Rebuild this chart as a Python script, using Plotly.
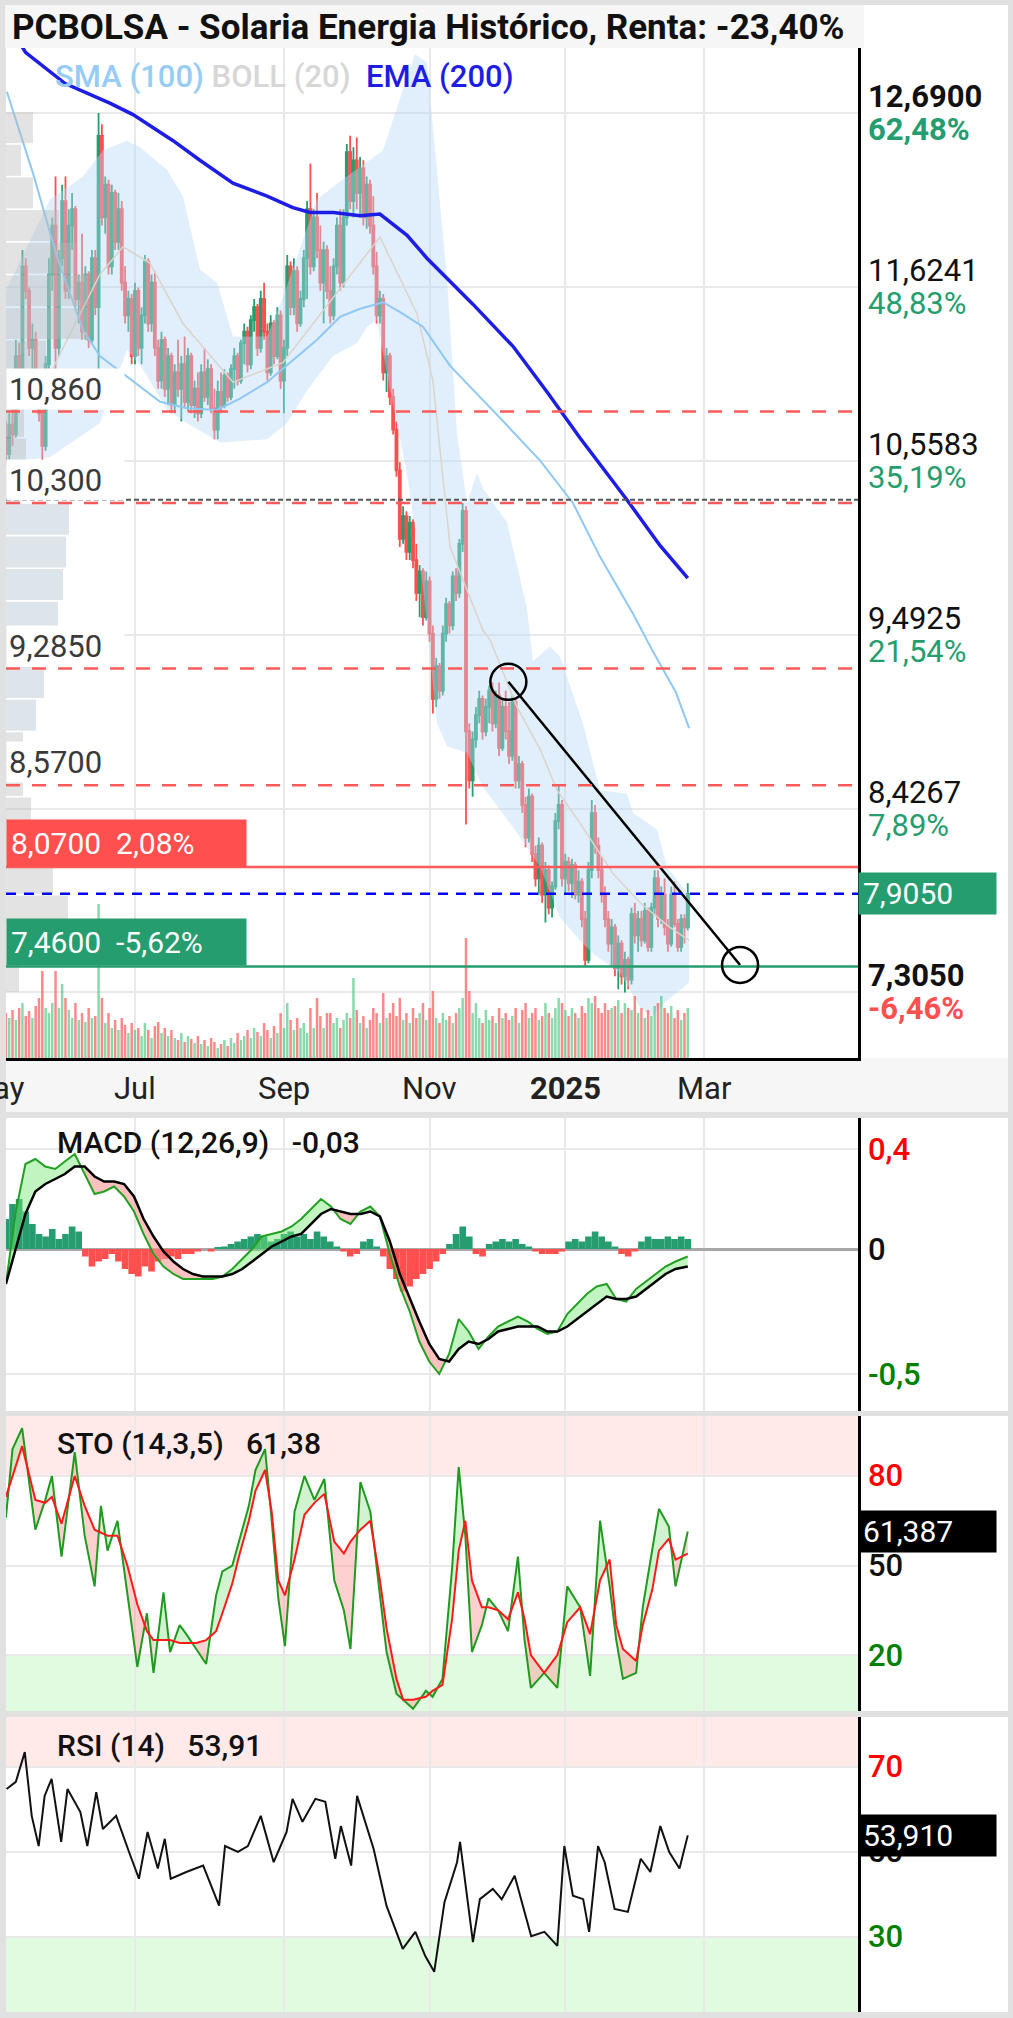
import plotly.graph_objects as go

# ---------------------------------------------------------------- data
FIRST_IDX = -39          # trading-day index of first candle (0 = 1 Jul 2024)

OPEN = [10.70, 10.60, 10.78, 10.72, 11.20, 11.12, 11.75, 11.60, 11.25, 11.30,
        11.10, 10.85, 10.65, 11.15, 11.70, 12.00, 11.25, 11.80, 12.15, 11.60,
        12.00, 12.10, 11.55, 11.65, 11.35, 11.70, 11.30, 11.80, 11.50, 12.55,
        12.05, 12.25, 11.75, 12.20, 11.90, 12.10, 11.65, 11.45, 11.55, 11.20,
        11.60, 11.25, 11.45, 11.78, 11.40, 11.65, 11.25, 11.05, 11.30, 11.00,
        11.20, 10.90, 11.10, 11.00, 11.15, 10.92, 11.20, 10.90, 11.00, 10.85,
        11.10, 10.95, 11.12, 10.88, 10.75, 10.98, 10.90, 11.08, 10.95, 11.12,
        11.20, 11.05, 11.28, 11.35, 11.15, 11.42, 11.50, 11.25, 11.55, 11.35,
        11.10, 11.40, 11.20, 11.45, 11.05, 11.25, 11.75, 11.50, 11.72, 11.40,
        11.55, 11.80, 12.10, 11.75, 12.05, 11.85, 11.65, 11.85, 11.60, 11.45,
        11.75, 12.00, 11.65, 12.05, 12.45, 12.15, 12.40, 12.20, 12.35, 12.05,
        12.25, 12.00, 11.75, 11.45, 11.55, 11.10, 11.20, 10.95, 10.75, 10.50,
        10.08, 10.22, 10.00, 10.18, 9.95, 9.75, 9.88, 9.60, 9.82, 9.50,
        9.10, 9.30, 9.15, 9.50, 9.68, 9.55, 9.85, 9.75, 10.05, 10.25,
        8.90, 8.60, 8.85, 9.00, 9.10, 8.90, 9.05, 9.15, 8.95, 9.12,
        8.80, 9.05, 8.90, 8.75, 9.08, 8.60, 8.70, 8.45, 8.25, 8.50,
        8.15, 8.00, 8.20, 7.90, 8.05, 7.82, 7.95, 8.35, 8.45, 8.00,
        8.10, 7.97, 8.08, 7.90, 7.98, 7.75, 7.50, 8.05, 8.40, 8.20,
        8.05, 7.90, 7.75, 7.60, 7.70, 7.45, 7.60, 7.40, 7.50, 7.38,
        7.78, 7.65, 7.75, 7.62, 7.80, 7.58, 7.82, 8.00, 7.75, 7.90,
        7.70, 7.60, 7.90, 7.72, 7.58, 7.75, 7.70]
HIGH = [10.80, 10.85, 10.95, 11.30, 11.28, 11.85, 11.80, 11.62, 11.40, 11.35,
        11.12, 10.88, 11.20, 11.80, 12.05, 12.30, 11.85, 12.25, 12.30, 12.10,
        12.20, 12.12, 11.70, 11.95, 11.75, 11.72, 11.85, 11.85, 12.69, 12.62,
        12.30, 12.28, 12.25, 12.22, 12.20, 12.15, 11.75, 11.60, 11.58, 11.65,
        11.62, 11.50, 11.82, 11.80, 11.70, 11.72, 11.30, 11.35, 11.32, 11.25,
        11.22, 11.15, 11.30, 11.20, 11.32, 11.25, 11.22, 11.05, 11.10, 11.15,
        11.25, 11.18, 11.15, 11.00, 11.05, 11.10, 11.12, 11.10, 11.15, 11.25,
        11.22, 11.30, 11.40, 11.38, 11.45, 11.55, 11.52, 11.60, 11.65, 11.40,
        11.45, 11.42, 11.50, 11.48, 11.30, 11.82, 11.78, 11.80, 11.75, 11.60,
        11.85, 12.15, 12.38, 12.10, 12.20, 12.00, 11.90, 11.88, 11.75, 11.80,
        12.05, 12.10, 12.10, 12.50, 12.55, 12.48, 12.54, 12.42, 12.40, 12.30,
        12.28, 12.18, 11.84, 11.60, 11.58, 11.25, 11.22, 11.00, 10.80, 10.55,
        10.28, 10.25, 10.22, 10.20, 10.05, 9.92, 9.90, 9.88, 9.85, 9.55,
        9.35, 9.32, 9.55, 9.72, 9.70, 9.88, 9.90, 10.08, 10.30, 10.28,
        8.95, 8.90, 9.05, 9.15, 9.12, 9.10, 9.18, 9.20, 9.15, 9.20,
        9.10, 9.15, 9.08, 9.12, 9.10, 8.75, 8.72, 8.50, 8.55, 8.52,
        8.20, 8.25, 8.22, 8.10, 8.08, 7.98, 8.40, 8.57, 8.48, 8.15,
        8.13, 8.12, 8.10, 8.05, 8.00, 7.80, 8.10, 8.48, 8.45, 8.25,
        8.13, 7.95, 7.80, 7.75, 7.72, 7.65, 7.62, 7.55, 7.52, 7.82,
        7.85, 7.80, 7.80, 7.85, 7.82, 7.85, 8.05, 8.05, 7.95, 8.00,
        7.75, 7.95, 7.98, 7.75, 7.78, 7.78, 7.97]
LOW = [10.55, 10.55, 10.65, 10.70, 11.05, 11.10, 11.55, 11.20, 11.10, 11.05,
       10.80, 10.55, 10.62, 11.10, 11.60, 11.12, 11.20, 11.75, 11.55, 11.55,
       11.85, 11.50, 11.40, 11.30, 11.30, 11.25, 11.28, 11.45, 11.12, 12.00,
       11.95, 11.70, 11.70, 11.85, 11.85, 11.60, 11.40, 11.35, 11.15, 11.15,
       11.20, 11.15, 11.40, 11.35, 11.35, 11.20, 11.00, 11.00, 10.95, 10.90,
       10.85, 10.85, 10.95, 10.80, 10.88, 10.86, 10.85, 10.82, 10.80, 10.82,
       10.92, 10.90, 10.85, 10.69, 10.69, 10.85, 10.88, 10.92, 10.93, 11.00,
       11.02, 11.03, 11.15, 11.10, 11.12, 11.35, 11.20, 11.22, 11.30, 11.05,
       11.08, 11.15, 11.18, 11.00, 10.85, 11.20, 11.45, 11.45, 11.35, 11.38,
       11.50, 11.55, 11.70, 11.72, 11.80, 11.60, 11.40, 11.55, 11.40, 11.42,
       11.70, 11.60, 11.62, 12.00, 12.10, 12.05, 12.10, 12.05, 12.00, 11.98,
       11.95, 11.70, 11.40, 11.40, 11.05, 10.98, 10.90, 10.72, 10.46, 10.03,
       10.05, 9.95, 9.95, 9.90, 9.70, 9.60, 9.55, 9.58, 9.45, 9.01,
       9.05, 9.10, 9.12, 9.45, 9.50, 9.52, 9.70, 9.72, 10.00, 8.33,
       8.55, 8.50, 8.80, 8.95, 8.85, 8.87, 8.95, 8.90, 8.92, 8.75,
       8.78, 8.85, 8.70, 8.72, 8.55, 8.55, 8.40, 8.19, 8.22, 8.10,
       7.95, 7.90, 7.85, 7.73, 7.78, 7.76, 7.93, 8.30, 7.95, 7.90,
       7.92, 7.88, 7.87, 7.85, 7.70, 7.46, 7.48, 8.00, 8.15, 8.00,
       7.85, 7.70, 7.55, 7.46, 7.40, 7.32, 7.35, 7.30, 7.32, 7.35,
       7.60, 7.55, 7.58, 7.60, 7.55, 7.55, 7.78, 7.70, 7.72, 7.65,
       7.55, 7.58, 7.70, 7.55, 7.55, 7.60, 7.68]
CLOSE = [10.60, 10.78, 10.72, 11.20, 11.12, 11.75, 11.60, 11.25, 11.30, 11.10,
         10.85, 10.65, 11.15, 11.70, 12.00, 11.25, 11.80, 12.15, 11.60, 12.00,
         12.10, 11.55, 11.65, 11.35, 11.70, 11.30, 11.80, 11.50, 12.55, 12.05,
         12.25, 11.75, 12.20, 11.90, 12.10, 11.65, 11.45, 11.55, 11.20, 11.60,
         11.25, 11.45, 11.78, 11.40, 11.65, 11.25, 11.05, 11.30, 11.00, 11.20,
         10.90, 11.10, 11.00, 11.15, 10.92, 11.20, 10.90, 11.00, 10.85, 11.10,
         10.95, 11.12, 10.88, 10.75, 10.98, 10.90, 11.08, 10.95, 11.12, 11.20,
         11.05, 11.28, 11.35, 11.15, 11.42, 11.50, 11.25, 11.55, 11.35, 11.10,
         11.40, 11.20, 11.45, 11.05, 11.25, 11.75, 11.50, 11.72, 11.40, 11.55,
         11.80, 12.10, 11.75, 12.05, 11.85, 11.65, 11.85, 11.60, 11.45, 11.75,
         12.00, 11.65, 12.05, 12.45, 12.15, 12.40, 12.20, 12.35, 12.05, 12.25,
         12.00, 11.75, 11.45, 11.55, 11.10, 11.20, 10.95, 10.75, 10.50, 10.08,
         10.22, 10.00, 10.18, 9.95, 9.75, 9.88, 9.60, 9.82, 9.50, 9.10,
         9.30, 9.15, 9.50, 9.68, 9.55, 9.85, 9.75, 10.05, 10.25, 8.90,
         8.60, 8.85, 9.00, 9.10, 8.90, 9.05, 9.15, 8.95, 9.12, 8.80,
         9.05, 8.90, 8.75, 9.08, 8.60, 8.70, 8.45, 8.25, 8.50, 8.15,
         8.00, 8.20, 7.90, 8.05, 7.82, 7.95, 8.35, 8.45, 8.00, 8.10,
         7.97, 8.08, 7.90, 7.98, 7.75, 7.50, 8.05, 8.40, 8.20, 8.05,
         7.90, 7.75, 7.60, 7.70, 7.45, 7.60, 7.40, 7.50, 7.38, 7.78,
         7.65, 7.75, 7.62, 7.80, 7.58, 7.82, 8.00, 7.75, 7.90, 7.70,
         7.60, 7.90, 7.72, 7.58, 7.75, 7.70, 7.905]
VOLUME = [45, 40, 48, 38, 50, 55, 42, 47, 40, 52,
          60, 87, 50, 45, 55, 87, 50, 74, 60, 48,
          40, 55, 38, 45, 36, 50, 40, 42, 154, 60,
          35, 45, 30, 38, 28, 40, 33, 25, 35, 28,
          30, 22, 35, 28, 20, 32, 36, 25, 30, 22,
          28, 20, 18, 25, 16, 22, 19, 15, 22, 14,
          18, 12, 20, 16, 10, 14, 18, 12, 20, 15,
          25, 18, 22, 28, 20, 30, 26, 22, 35, 28,
          20, 32, 25, 45, 30, 55, 38, 28, 40, 30,
          35, 25, 50, 30, 60, 42, 30, 45, 45, 35,
          40, 30, 38, 45, 40, 80, 48, 35, 42, 30,
          38, 50, 45, 35, 65, 40, 45, 55, 42, 60,
          38, 45, 35, 50, 40, 45, 55, 38, 50, 67,
          40, 35, 45, 38, 42, 35, 45, 50, 60, 120,
          67, 45, 55, 40, 35, 48, 38, 42, 35, 50,
          40, 45, 38, 42, 50, 35, 48, 55, 40, 45,
          50, 38, 42, 55, 45, 40, 50, 60, 55, 48,
          42, 50, 45, 40, 52, 45, 60, 55, 62, 50,
          45, 55, 48, 50, 52, 58, 45, 55, 50, 48,
          62, 45, 50, 40, 48, 42, 52, 55, 62, 50,
          45, 52, 40, 48, 38, 45, 50]

SMA100_X = [-38.7, -30.8, -23.6, -15.7, -10.6, -5.4, 7.6, 15.7, 24.8, 31.7, 39.9, 46.8, 55.0, 61.9,
            68.0, 74.9, 80.1, 87.0, 95.2, 109.4, 122.4, 132.3, 140.5, 150.5, 156.2, 163.4, 167.4]
SMA100 = [12.82, 12.32, 11.81, 11.36, 11.20, 11.12, 10.92, 10.88, 10.87, 10.94, 11.04, 11.16, 11.30, 11.44,
          11.49, 11.53, 11.47, 11.38, 11.14, 10.84, 10.56, 10.30, 9.97, 9.62, 9.40, 9.14, 8.92]

EMA200_X = [-39.0, -33.0, -21.1, -7.6, -0.6, 11.5, 19.6, 29.6, 39.9, 47.7, 52.9, 60.0, 68.0, 74.0,
            82.2, 88.2, 102.0, 114.2, 124.5, 134.4, 148.6, 158.6, 167.0]
EMA200 = [13.25, 13.06, 12.87, 12.75, 12.68, 12.52, 12.40, 12.26, 12.18, 12.11, 12.08, 12.08, 12.06, 12.07,
          11.94, 11.80, 11.52, 11.26, 10.98, 10.70, 10.32, 10.04, 9.84]

BB_UP_X = [-39.0, -30.8, -25.7, -15.7, -9.7, -2.4, 1.5, 9.7, 14.5, 19.6, 24.8, 29.6, 39.9, 44.7, 55.0,
           61.9, 74.9, 80.1, 84.6, 88.2, 90.0, 94.3, 97.3, 100.3, 103.3, 105.1, 112.4, 118.4, 120.2,
           125.4, 128.4, 135.3, 140.5, 148.6, 150.5, 157.7, 160.7, 167.4]
BB_UP = [11.60, 11.95, 12.16, 12.30, 12.46, 12.52, 12.48, 12.34, 12.18, 11.73, 11.65, 11.32, 11.32, 11.56,
         12.16, 12.27, 12.46, 12.78, 13.05, 13.00, 12.60, 11.66, 10.72, 10.30, 10.48, 10.39, 10.18, 9.66,
         9.33, 9.42, 9.36, 8.95, 8.54, 8.52, 8.40, 8.30, 8.07, 7.90]
BB_LO_X = [-39.0, -25.7, -10.6, -2.4, 2.4, 9.7, 15.7, 25.7, 39.9, 45.9, 52.0, 59.8, 67.1, 70.1, 73.1,
           77.0, 82.2, 87.0, 91.2, 94.3, 100.3, 105.1, 110.3, 115.4, 122.4, 128.4, 134.4, 138.4, 146.5,
           152.6, 156.2, 160.7, 167.4]
BB_LO = [10.55, 10.58, 10.79, 11.24, 11.12, 10.87, 10.79, 10.67, 10.69, 10.79, 10.99, 11.20, 11.28, 11.38,
         11.42, 11.00, 10.48, 9.79, 8.95, 8.81, 8.77, 8.56, 8.42, 8.28, 8.07, 7.76, 7.62, 7.54, 7.42,
         7.21, 7.15, 7.25, 7.36]
BB_MID_X = [-34.7, -26.6, -20.5, -10.6, -3.6, 4.5, 14.5, 29.6, 44.7, 59.8, 74.0, 85.2, 90.0, 95.2,
            105.1, 107.3, 115.4, 122.4, 127.5, 134.4, 144.4, 152.6, 161.6, 167.4]
BB_MID = [10.95, 11.05, 11.30, 11.70, 11.87, 11.77, 11.40, 11.04, 11.16, 11.56, 11.93, 11.46, 11.05, 10.03,
          9.52, 9.46, 9.05, 8.79, 8.54, 8.34, 8.03, 7.85, 7.70, 7.62]

VP_PRICE = [12.6, 12.4, 12.2, 12.0, 11.8, 11.6, 11.4, 11.2, 11.0, 10.8, 10.6, 10.4, 10.2, 10.0,
            9.8, 9.6, 9.4, 9.2, 9.0, 8.8, 8.6, 8.4, 8.2, 8.0, 7.8, 7.6, 7.4]
VP_VOL = [27, 15, 27, 53, 70, 82, 82, 40, 20, 18, 20, 15, 63, 60,
          57, 52, 45, 38, 30, 17, 17, 25, 30, 47, 62, 35, 13]

MACD_X = [-39.0, -36.0, -33.1, -30.1, -27.1, -24.1, -21.2, -18.2, -15.2, -12.2, -9.3, -6.3, -3.3, -0.3,
          2.6, 5.6, 8.6, 11.6, 14.5, 17.5, 20.5, 23.5, 26.4, 29.4, 32.4, 35.4, 38.3, 41.3, 44.3, 47.3,
          50.2, 53.2, 56.2, 59.2, 62.1, 65.1, 68.1, 71.1, 74.0, 77.0, 80.0, 83.0, 85.9, 88.9, 91.9,
          94.9, 97.8, 100.8, 103.8, 106.8, 109.7, 112.7, 115.7, 118.7, 121.6, 124.6, 127.6, 130.6,
          133.5, 136.5, 139.5, 142.5, 145.4, 148.4, 151.4, 154.4, 157.3, 160.3, 163.3, 167.0]
MACD_SIGNAL = [-0.14, 0.00, 0.14, 0.23, 0.26, 0.28, 0.30, 0.33, 0.33, 0.29, 0.27, 0.27, 0.26, 0.21,
               0.12, 0.05, -0.01, -0.05, -0.08, -0.10, -0.11, -0.11, -0.11, -0.10, -0.08, -0.05, -0.02,
               0.01, 0.03, 0.05, 0.06, 0.10, 0.14, 0.16, 0.15, 0.14, 0.14, 0.15, 0.13, 0.03, -0.10,
               -0.20, -0.29, -0.38, -0.44, -0.45, -0.40, -0.37, -0.38, -0.36, -0.33, -0.32, -0.31,
               -0.31, -0.31, -0.33, -0.33, -0.31, -0.28, -0.25, -0.22, -0.19, -0.20, -0.20, -0.19,
               -0.16, -0.13, -0.10, -0.08, -0.07]
MACD_LINE = [-0.14, 0.15, 0.34, 0.36, 0.33, 0.32, 0.35, 0.38, 0.30, 0.22, 0.23, 0.25, 0.21, 0.15,
             0.06, -0.02, -0.07, -0.10, -0.12, -0.12, -0.12, -0.12, -0.11, -0.08, -0.04, 0.00, 0.05,
             0.06, 0.07, 0.09, 0.12, 0.16, 0.20, 0.17, 0.12, 0.10, 0.15, 0.17, 0.13, -0.02, -0.15,
             -0.25, -0.37, -0.45, -0.50, -0.42, -0.28, -0.33, -0.40, -0.35, -0.31, -0.29, -0.27,
             -0.29, -0.32, -0.34, -0.33, -0.26, -0.22, -0.18, -0.15, -0.14, -0.20, -0.21, -0.16,
             -0.13, -0.10, -0.07, -0.05, -0.03]
HIST_X = list(range(-39, 168, 2))
MACD_HIST = [0.12, 0.18, 0.20, 0.15, 0.10, 0.06, 0.05, 0.08, 0.04, 0.06, 0.09, 0.07, -0.03, -0.07,
             -0.05, -0.04, -0.02, -0.05, -0.08, -0.10, -0.11, -0.07, -0.09, -0.05, -0.04, -0.03, -0.04,
             -0.02, -0.02, -0.01, 0.0, -0.01, 0.005, 0.01, 0.02, 0.03, 0.04, 0.05, 0.06, 0.05, 0.03,
             0.04, 0.06, 0.07, 0.05, 0.06, 0.04, 0.07, 0.05, 0.03, 0.01, -0.01, -0.03, -0.02, 0.03,
             0.04, 0.01, -0.03, -0.08, -0.12, -0.17, -0.15, -0.12, -0.10, -0.08, -0.05, -0.02, 0.02,
             0.06, 0.09, 0.05, -0.02, -0.03, 0.02, 0.03, 0.04, 0.03, 0.04, 0.02, 0.01, -0.01, -0.02,
             -0.02, -0.02, -0.01, 0.03, 0.04, 0.03, 0.05, 0.07, 0.05, 0.03, 0.01, -0.02, -0.03, -0.01,
             0.03, 0.05, 0.04, 0.04, 0.05, 0.04, 0.05, 0.04]

STO_X = [-39.0, -37.0, -34.1, -30.1, -27.1, -25.1, -22.2, -18.2, -15.2, -12.2, -10.3, -8.3, -5.3, -2.3,
         0.7, 3.6, 5.6, 8.6, 10.6, 13.5, 15.5, 18.5, 21.5, 24.5, 26.4, 29.4, 31.4, 34.4, 36.4, 39.3,
         41.3, 43.3, 45.3, 48.2, 51.2, 54.2, 57.2, 60.2, 63.1, 65.1, 68.1, 71.1, 74.0, 76.0, 79.0,
         81.0, 84.0, 87.9, 89.9, 92.9, 95.8, 97.8, 99.8, 101.8, 104.8, 106.8, 109.7, 112.7, 115.7,
         117.7, 119.6, 123.6, 127.6, 130.6, 134.5, 137.5, 140.5, 143.4, 145.4, 147.4, 151.4, 153.4,
         156.3, 158.3, 161.3, 163.3, 167.0]
STO_K = [66, 89, 96, 62, 72, 80, 53, 88, 60, 43, 70, 55, 65, 40, 16, 34, 14, 41, 21, 30, 27, 22, 17,
         40, 48, 50, 58, 70, 82, 89, 65, 39, 23, 68, 80, 72, 79, 45, 35, 22, 78, 68, 40, 21, 7, 5, 2,
         8, 6, 12, 49, 83, 60, 21, 30, 39, 35, 28, 53, 25, 9, 14, 9, 43, 36, 13, 65, 43, 25, 12, 14,
         36, 55, 69, 63, 43, 61.39]
STO_D = [73, 80, 90, 72, 71, 73, 64, 80, 70, 62, 61, 60, 60, 50, 37, 28, 25, 25, 25, 24, 24, 24, 25,
         28, 34, 44, 53, 65, 75, 82, 68, 45, 40, 52, 67, 71, 74, 58, 54, 58, 62, 65, 45, 29, 12, 5, 5,
         6, 8, 10, 32, 55, 65, 45, 36, 36, 35, 32, 41, 32, 20, 14, 20, 31, 36, 27, 45, 52, 30, 22, 18,
         30, 42, 55, 59, 52, 54]

RSI_X = [-38.8, -36.0, -33.3, -31.2, -29.1, -27.3, -25.2, -22.3, -20.4, -16.5, -14.4, -11.7, -9.7, -5.7,
         -1.8, 1.2, 3.8, 6.9, 9.0, 10.8, 15.5, 20.6, 25.4, 27.2, 31.1, 34.1, 38.0, 41.9, 45.8, 47.6,
         50.6, 54.5, 57.5, 60.5, 62.2, 65.3, 67.1, 72.1, 76.0, 80.9, 84.7, 87.7, 90.4, 93.5, 97.3,
         98.2, 102.1, 104.2, 108.1, 110.8, 114.7, 117.7, 119.7, 123.7, 127.6, 129.7, 132.3, 135.4,
         137.2, 139.9, 141.9, 144.9, 148.9, 152.8, 155.7, 158.7, 161.4, 164.5, 167.0]
RSI = [64.8, 66.5, 73.5, 58.5, 51.4, 63.2, 67.2, 52.4, 64.8, 59.4, 51.4, 64.1, 55.4, 58.5,
       50.0, 43.7, 54.7, 46.1, 53.1, 43.7, 45.3, 46.8, 37.4, 51.4, 50.0, 51.4, 58.5, 47.6, 54.7, 62.5,
       57.1, 62.5, 61.8, 48.4, 56.1, 46.8, 63.2, 50.7, 37.3, 27.2, 31.2, 25.5, 21.8, 38.2, 47.6,
       52.4, 28.8, 38.9, 41.3, 38.9, 44.4, 35.9, 30.2, 31.2, 27.9, 51.4, 39.7, 38.9,
       31.2, 51.4, 47.6, 36.6, 35.9, 48.4, 45.3, 56.1, 50.0, 46.1, 53.91]

MONTH_LABELS = ["May", "Jul", "Sep", "Nov", "2025", "Mar"]
MONTH_IDX = [-42, 0, 45, 89, 130, 172]

PRICE_GRID = [12.69, 11.6241, 10.5583, 9.4925, 8.4267, 7.305]
PRICE_TEXT = ["12,6900", "11,6241", "10,5583", "9,4925", "8,4267", "7,3050"]
PCT_TEXT = ["62,48%", "48,83%", "35,19%", "21,54%", "7,89%", "-6,46%"]

LEVELS_DASHED = [10.86, 10.30, 9.285, 8.57]
LEVELS_TEXT = ["10,860", "10,300", "9,2850", "8,5700"]
LEVEL_DOTTED = 10.32
RES_LINE, RES_TEXT = 8.07, "8,0700\u00a0\u00a02,08%"
SUP_LINE, SUP_TEXT = 7.46, "7,4600\u00a0\u00a0-5,62%"
LAST_PRICE, LAST_TEXT = 7.905, "7,9050"
TREND_X = [112.8, 182.8]
TREND_Y = [9.204, 7.469]

# ---------------------------------------------------------------- geometry
W, H = 1013, 2018
PL, PR = 6, 858
X_RANGE = [-38.97, 218.43]
FONT = "Roboto"
GREEN = "#259d6e"
RED = "#ff4f4f"


def py(p):
    return 1 - p / H


def pxp(p):
    return (p - PL) / (PR - PL)


def idx_paper(i):
    return (i - X_RANGE[0]) / (X_RANGE[1] - X_RANGE[0])


IDX = list(range(FIRST_IDX, FIRST_IDX + len(CLOSE)))

fig = go.Figure()

# Bollinger band
fig.add_trace(go.Scatter(x=BB_LO_X, y=BB_LO, mode="lines", line=dict(width=0, color="rgba(0,0,0,0)"),
                         xaxis="x", yaxis="y", hoverinfo="skip"))
fig.add_trace(go.Scatter(x=BB_UP_X, y=BB_UP, mode="lines", line=dict(width=0, color="rgba(0,0,0,0)"),
                         fill="tonexty", fillcolor="rgba(180,218,246,0.42)", xaxis="x", yaxis="y",
                         hoverinfo="skip"))
fig.add_trace(go.Scatter(x=BB_MID_X, y=BB_MID, mode="lines", line=dict(width=1.5, color="#dcd3cb"),
                         xaxis="x", yaxis="y", hoverinfo="skip"))

# volume profile
vp_colors = ["rgba(170,190,205,0.40)" if 9.0 <= p <= 10.2 else "rgba(185,185,185,0.40)" for p in VP_PRICE]
fig.add_trace(go.Bar(x=VP_VOL, y=VP_PRICE, orientation="h", width=0.19, base=0,
                     marker=dict(color=vp_colors, line=dict(width=0)), xaxis="x5", yaxis="y",
                     hoverinfo="skip"))

# volume
vcol = ["rgba(60,195,120,0.62)" if c >= o else "rgba(255,85,85,0.7)" for o, c in zip(OPEN, CLOSE)]
fig.add_trace(go.Bar(x=IDX, y=VOLUME, width=0.75, marker=dict(color=vcol, line=dict(width=0)),
                     xaxis="x", yaxis="y5", hoverinfo="skip"))

# candles
fig.add_trace(go.Candlestick(x=IDX, open=OPEN, high=HIGH, low=LOW, close=CLOSE,
                             increasing=dict(line=dict(color=GREEN, width=1.8), fillcolor=GREEN),
                             decreasing=dict(line=dict(color=RED, width=1.8), fillcolor=RED),
                             whiskerwidth=0, xaxis="x", yaxis="y", hoverinfo="skip"))

# moving averages
fig.add_trace(go.Scatter(x=SMA100_X, y=SMA100, mode="lines", line=dict(width=2, color="#8fc8f4"),
                         xaxis="x", yaxis="y", hoverinfo="skip"))
fig.add_trace(go.Scatter(x=EMA200_X, y=EMA200, mode="lines", line=dict(width=3.5, color="#1d1de6"),
                         xaxis="x", yaxis="y", hoverinfo="skip"))
fig.add_trace(go.Scatter(x=TREND_X, y=TREND_Y, mode="lines", line=dict(width=2.5, color="black"),
                         xaxis="x", yaxis="y", hoverinfo="skip", cliponaxis=False))


def split_fill(xs, a, b, up):
    fx, fy = [], []
    for i in range(len(xs) - 1):
        d = (a[i] - b[i]) + (a[i + 1] - b[i + 1])
        if (d >= 0) == up:
            fx += [xs[i], xs[i + 1], xs[i + 1], xs[i], None]
            fy += [a[i], a[i + 1], b[i + 1], b[i], None]
    return fx, fy


# MACD panel
hcol = [GREEN if v >= 0 else RED for v in MACD_HIST]
fig.add_trace(go.Bar(x=HIST_X, y=MACD_HIST, width=2.0, marker=dict(color=hcol, line=dict(width=0)),
                     xaxis="x2", yaxis="y2", hoverinfo="skip"))
for up, col in [(True, "rgba(120,230,120,0.45)"), (False, "rgba(255,150,150,0.6)")]:
    fx, fy = split_fill(MACD_X, MACD_LINE, MACD_SIGNAL, up)
    fig.add_trace(go.Scatter(x=fx, y=fy, mode="lines", fill="toself", fillcolor=col,
                             line=dict(width=0), xaxis="x2", yaxis="y2", hoverinfo="skip"))
fig.add_trace(go.Scatter(x=MACD_X, y=MACD_LINE, mode="lines", line=dict(width=2, color="#22a022"),
                         xaxis="x2", yaxis="y2", hoverinfo="skip"))
fig.add_trace(go.Scatter(x=MACD_X, y=MACD_SIGNAL, mode="lines", line=dict(width=2.5, color="black"),
                         xaxis="x2", yaxis="y2", hoverinfo="skip"))

# STO panel
for up, col in [(True, "rgba(120,220,120,0.35)"), (False, "rgba(255,150,150,0.45)")]:
    fx, fy = split_fill(STO_X, STO_K, STO_D, up)
    fig.add_trace(go.Scatter(x=fx, y=fy, mode="lines", fill="toself", fillcolor=col,
                             line=dict(width=0), xaxis="x3", yaxis="y3", hoverinfo="skip"))
fig.add_trace(go.Scatter(x=STO_X, y=STO_K, mode="lines", line=dict(width=2, color="#1f9a1f"),
                         xaxis="x3", yaxis="y3", hoverinfo="skip"))
fig.add_trace(go.Scatter(x=STO_X, y=STO_D, mode="lines", line=dict(width=2, color="#ff1a1a"),
                         xaxis="x3", yaxis="y3", hoverinfo="skip"))

# RSI panel
fig.add_trace(go.Scatter(x=RSI_X, y=RSI, mode="lines", line=dict(width=2, color="#111"),
                         xaxis="x4", yaxis="y4", hoverinfo="skip"))

# ---------------------------------------------------------------- layout
D_MAIN = [py(1058), py(48)]
D_MACD = [py(1411), py(1118)]
D_STO = [py(1711), py(1416)]
D_RSI = [py(2012), py(1717)]

grid = "#e9e9e9"
xcommon = dict(range=X_RANGE, tickvals=MONTH_IDX[1:], showticklabels=False, ticks="",
               showgrid=True, gridcolor=grid, gridwidth=2, zeroline=False, domain=[0, 1])
ycommon = dict(side="right", showticklabels=False, ticks="", showgrid=True, gridcolor=grid,
               gridwidth=2, showline=True, linecolor="black", linewidth=3, zeroline=False)

layout = dict(
    width=W, height=H, margin=dict(l=PL, r=W - PR, t=0, b=0),
    paper_bgcolor="#e1e1e1", plot_bgcolor="rgba(0,0,0,0)",
    showlegend=False, hovermode=False, barmode="overlay", boxgap=0.12,
    font=dict(family=FONT, size=30, color="#111"),
    xaxis=dict(xcommon, anchor="y", showline=True, linecolor="black", linewidth=3,
               rangeslider=dict(visible=False)),
    xaxis2=dict(xcommon, anchor="y2", matches="x"),
    xaxis3=dict(xcommon, anchor="y3", matches="x"),
    xaxis4=dict(xcommon, anchor="y4", matches="x"),
    xaxis5=dict(range=[0, PR - PL], overlaying="x", anchor="y", visible=False),
    yaxis=dict(ycommon, domain=D_MAIN, range=[6.899, 13.088], tickvals=PRICE_GRID),
    yaxis2=dict(ycommon, domain=D_MACD, range=[-0.648, 0.524], tickvals=[0.4, -0.5],
                zeroline=True, zerolinecolor="#a8a8a8", zerolinewidth=3),
    yaxis3=dict(ycommon, domain=D_STO, range=[1.24, 100.1], tickvals=[20, 50, 80]),
    yaxis4=dict(ycommon, domain=D_RSI, range=[12.35, 81.76], tickvals=[30, 50, 70]),
    yaxis5=dict(range=[0, 1010], overlaying="y", anchor="x", visible=False),
)
fig.update_layout(**layout)

shapes = []
R = pxp(1008)
# panel backgrounds
for top, bot, col in [(5, 1058, "white"), (1058, 1112, "#f6f6f6"), (1118, 1411, "white"),
                      (1416, 1711, "white"), (1717, 2012, "white")]:
    shapes.append(dict(type="rect", xref="paper", yref="paper", x0=0, x1=R, y0=py(bot), y1=py(top),
                       fillcolor=col, line=dict(width=0), layer="below"))
# title bar
shapes.append(dict(type="rect", xref="paper", yref="paper", x0=pxp(5), x1=pxp(864), y0=py(48), y1=py(5),
                   fillcolor="#f6f6f6", line=dict(width=0), layer="below"))
# overbought / oversold zones
for yr, lo, hi, col in [("y3", 80, 100.1, "#ffe9e9"), ("y3", 1.24, 20, "#e1fbe1"),
                        ("y4", 70, 81.76, "#ffe9e9"), ("y4", 12.35, 30, "#e1fbe1")]:
    shapes.append(dict(type="rect", xref="paper", yref=yr, x0=0, x1=1, y0=lo, y1=hi,
                       fillcolor=col, line=dict(width=0), layer="below"))
# level lines
for lv in LEVELS_DASHED:
    shapes.append(dict(type="line", xref="paper", yref="y", x0=0, x1=1, y0=lv, y1=lv,
                       line=dict(color="#ff5a5a", width=2.5, dash="14px,12px"), layer="above"))
shapes.append(dict(type="line", xref="paper", yref="y", x0=0, x1=1, y0=LEVEL_DOTTED, y1=LEVEL_DOTTED,
                   line=dict(color="#555", width=2, dash="5px,3px"), layer="above"))
shapes.append(dict(type="line", xref="paper", yref="y", x0=0, x1=1, y0=RES_LINE, y1=RES_LINE,
                   line=dict(color="#ff5a5a", width=2.5), layer="above"))
shapes.append(dict(type="line", xref="paper", yref="y", x0=0, x1=1, y0=SUP_LINE, y1=SUP_LINE,
                   line=dict(color=GREEN, width=2.5), layer="above"))
shapes.append(dict(type="line", xref="paper", yref="y", x0=0, x1=1, y0=LAST_PRICE, y1=LAST_PRICE,
                   line=dict(color="#0000ff", width=2.5, dash="10px,8px"), layer="above"))
for tx, ty in zip(TREND_X, TREND_Y):
    shapes.append(dict(type="circle", xref="x", yref="y", xsizemode="pixel", ysizemode="pixel",
                       xanchor=tx, yanchor=ty, x0=-18, x1=18, y0=-18, y1=18,
                       line=dict(color="black", width=2.5), layer="above"))
fig.update_layout(shapes=shapes)

ann = []


def A(**kw):
    d = dict(showarrow=False, font=dict(family=FONT, size=31, color="#111"))
    d.update(kw)
    ann.append(d)


A(text="PCBOLSA - Solaria Energia Histórico, Renta: -23,40%", xref="paper", yref="paper",
  x=pxp(10), y=py(27), xanchor="left", yanchor="middle",
  font=dict(family=FONT, size=35, color="#111", weight="bold"))
A(text="<span style='color:#97ccf5'>SMA (100)</span> <span style='color:#d7d7d7'>BOLL (20)</span>"
       "\u00a0 <span style='color:#1d1de6'>EMA (200)</span>",
  xref="paper", yref="paper", x=pxp(53), y=py(77), xanchor="left", yanchor="middle",
  font=dict(family=FONT, size=31, color="#111", weight=500))

# left level labels
for lv, tx in zip(LEVELS_DASHED, LEVELS_TEXT):
    A(text=tx, xref="paper", yref="y", x=0, y=lv, xanchor="left", yanchor="bottom", yshift=2,
      bgcolor="white", width=113, height=36, align="left", borderpad=2,
      font=dict(family=FONT, size=31, color="#3a3a3a"))
A(text=RES_TEXT, xref="paper", yref="y", x=0, y=RES_LINE, xanchor="left", yanchor="bottom", yshift=0,
  bgcolor=RED, width=231, height=38, align="left", borderpad=4,
  font=dict(family=FONT, size=30, color="white"))
A(text=SUP_TEXT, xref="paper", yref="y", x=0, y=SUP_LINE, xanchor="left", yanchor="bottom", yshift=0,
  bgcolor=GREEN, width=231, height=38, align="left", borderpad=4,
  font=dict(family=FONT, size=30, color="white"))

# right price axis labels
XR = pxp(866)
for i, (lv, t1, t2) in enumerate(zip(PRICE_GRID, PRICE_TEXT, PCT_TEXT)):
    bold = i in (0, len(PRICE_GRID) - 1)
    pct_col = RED if t2.startswith("-") else GREEN
    A(text=t1, xref="paper", yref="y", x=XR, y=lv, xanchor="left", yanchor="middle", yshift=16,
      font=dict(family=FONT, size=31, color="#111", weight="bold" if bold else "normal"))
    A(text=t2, xref="paper", yref="y", x=XR, y=lv, xanchor="left", yanchor="middle", yshift=-17,
      font=dict(family=FONT, size=31, color=pct_col, weight="bold" if bold else "normal"))
A(text=LAST_TEXT, xref="paper", yref="y", x=1, y=LAST_PRICE, xanchor="left", yanchor="middle",
  bgcolor=GREEN, width=129, height=33, align="left", borderpad=4,
  font=dict(family=FONT, size=30, color="white"))

# x labels
for lab, i in zip(MONTH_LABELS, MONTH_IDX):
    A(text=lab, xref="paper", yref="paper", x=idx_paper(i), y=py(1088), xanchor="center",
      yanchor="middle", font=dict(family=FONT, size=31, color="#222",
                                  weight="bold" if lab.isdigit() else "normal"))

# indicator titles
for txt, yy in [("MACD (12,26,9)\u00a0\u00a0\u00a0-0,03", 1142), ("STO (14,3,5)\u00a0\u00a0\u00a061,38", 1443),
                ("RSI (14)\u00a0\u00a0\u00a053,91", 1745)]:
    A(text=txt, xref="paper", yref="paper", x=pxp(55), y=py(yy), xanchor="left", yanchor="middle",
      font=dict(family=FONT, size=30, color="#111", weight=500))

# indicator axis labels
for yr, vals, texts, cols in [("y2", [0.4, 0, -0.5], ["0,4", "0", "-0,5"], ["#ff0000", "#111", "#008000"]),
                              ("y3", [80, 50, 20], ["80", "50", "20"], ["#ff0000", "#111", "#008000"]),
                              ("y4", [70, 50, 30], ["70", "50", "30"], ["#ff0000", "#111", "#008000"])]:
    for v, t, c in zip(vals, texts, cols):
        A(text=t, xref="paper", yref=yr, x=XR, y=v, xanchor="left", yanchor="middle",
          font=dict(family=FONT, size=31, color=c, weight=500))
for yr, v, t in [("y3", 61.387, "61,387"), ("y4", 53.91, "53,910")]:
    A(text=t, xref="paper", yref=yr, x=1, y=v, xanchor="left", yanchor="middle",
      bgcolor="black", width=129, height=33, align="left", borderpad=4,
      font=dict(family=FONT, size=30, color="white"))

fig.update_layout(annotations=ann)
fig.write_html("out.html")
